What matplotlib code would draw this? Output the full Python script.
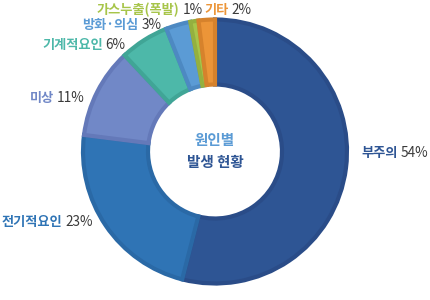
import matplotlib.pyplot as plt

plt.rcParams['font.family'] = ['Noto Sans CJK KR', 'DejaVu Sans']

# data, clockwise from 12 o'clock
causes = ['부주의', '전기적요인', '미상', '기계적요인', '방화·의심', '가스누출(폭발)', '기타']
shares = [54, 23, 11, 6, 3, 1, 2]
fills = ['#2e5594', '#2f74b5', '#7188c7', '#4db8a9', '#5b9bd5', '#a7c54a', '#ec9538']
edges = ['#2a4c88', '#2a69a6', '#6479b9', '#40a596', '#4d89c2', '#94b03f', '#d6822c']
# label anchor in image pixels (x left, y from top)
label_pos = [(361, 153), (2, 222), (30, 98), (42, 45), (82, 25), (97, 10), (204, 10)]

H = 300
fig = plt.figure(figsize=(4.3, 3.0), dpi=100)
ax = fig.add_axes([0, 0, 1, 1])

wedges, _ = ax.pie(shares, colors=fills, startangle=90, counterclock=False,
                   center=(215, H - 151.5), radius=132,
                   wedgeprops=dict(width=65, linewidth=3))
for w, ec in zip(wedges, edges):
    w.set_edgecolor(ec)
    w.set_joinstyle('miter')

ax.set_xlim(0, 430)
ax.set_ylim(0, H)
ax.set_aspect('auto')
ax.axis('off')

fig.canvas.draw()
r = fig.canvas.get_renderer()
for name, pct, col, (x, y) in zip(causes, shares, fills, label_pos):
    t = ax.text(x, H - y, name, color=col, fontsize=9.5, fontweight='bold',
                ha='left', va='center')
    bb = t.get_window_extent(renderer=r)
    ax.text(bb.x1 + 3, H - y, f'{pct}%', color='#3a3a3a', fontsize=9.8,
            ha='left', va='center')

ax.text(215, H - 140, '원인별', color='#5b9bd5', fontsize=10.5, fontweight='bold',
        ha='center', va='center')
ax.text(215, H - 162, '발생 현황', color='#2e5594', fontsize=10.5, fontweight='bold',
        ha='center', va='center')

fig.savefig('out.png', dpi=100, facecolor='white')
